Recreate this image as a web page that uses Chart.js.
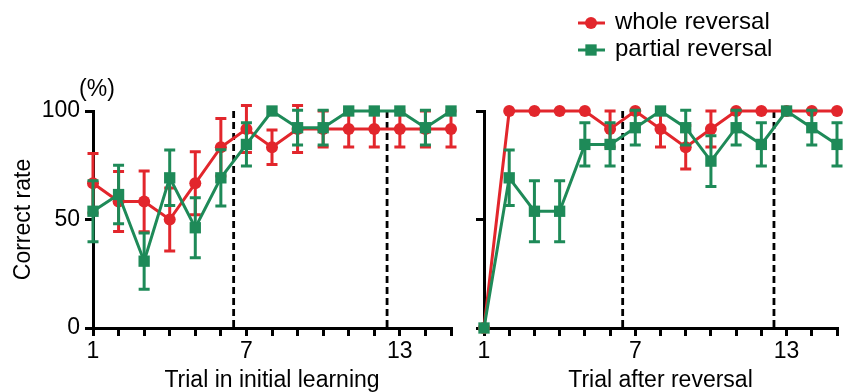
<!DOCTYPE html>
<html>
<head>
<meta charset="utf-8">
<script src="https://cdn.jsdelivr.net/npm/chart.js@4"></script>
<style>
  body { margin: 0; background: #fff; }
  #wrap { position: relative; width: 845px; height: 392px; }
  canvas { position: absolute; left: 0; top: 0; }
</style>
</head>
<body>
<div id="wrap">
  <canvas id="cv1" width="845" height="392"></canvas>
  <canvas id="cv2" width="845" height="392"></canvas>
</div>
<script>

const trials = [1, 2, 3, 4, 5, 6, 7, 8, 9, 10, 11, 12, 13, 14, 15];
const xLabels = [1, 7, 13];
const yTicks = [0, 50, 100];
const dividers = [6.5, 12.5];

// initial learning
const learnWhole = [66.7, 58.3, 58.3, 50, 66.7, 83.3, 91.7, 83.3, 91.7, 91.7, 91.7, 91.7, 91.7, 91.7, 91.7];
const learnWholeErr = [13.7, 13.8, 14, 14.5, 14.5, 13.3, 10.8, 8, 10.8, 8.3, 8.3, 8.3, 8.3, 8.3, 8.3];
const learnPartial = [53.8, 61.5, 30.8, 69.2, 46.2, 69.2, 84.6, 100, 92.3, 92.3, 100, 100, 100, 92.3, 100];
const learnPartialErr = [14, 13.5, 13, 12.8, 13.8, 13, 10, 0, 8, 8, 0, 0, 0, 8, 0];

// after reversal
const revWhole = [0, 100, 100, 100, 100, 91.7, 100, 91.7, 83.3, 91.7, 100, 100, 100, 100, 100];
const revWholeErr = [0, 0, 0, 0, 0, 8.3, 0, 8.3, 10, 8.3, 0, 0, 0, 0, 0];
const revPartial = [0, 69.2, 53.8, 53.8, 84.6, 84.6, 92.3, 100, 92.3, 76.9, 92.3, 84.6, 100, 92.3, 84.6];
const revPartialErr = [0, 12.8, 14, 14, 10, 10, 8, 0, 8, 11.7, 8, 10, 0, 8, 10];

const RED = "#e2262c";
const GREEN = "#1e8a58";
const FAMILY = "'Liberation Sans', Arial, sans-serif";

Chart.defaults.font.family = FAMILY;
Chart.defaults.font.size = 23;
Chart.defaults.color = "#000";


function points(values) {
    return trials.map((t, i) => ({ x: t, y: values[i] }));
}


const errorBars = {
    id: "errorBars",
    beforeDatasetDraw(chart, args) {
        const ds = chart.data.datasets[args.index];
        if (!ds.errors) return;
        const xs = chart.scales.x;
        const ys = chart.scales.y;
        const ctx = chart.ctx;
        ctx.save();
        ctx.strokeStyle = ds.borderColor;
        ctx.lineWidth = 3;
        trials.forEach((t, i) => {
            const e = ds.errors[i];
            if (!e) return;
            const v = ds.data[i].y;
            const x = xs.getPixelForValue(t);
            const y1 = ys.getPixelForValue(v + e);
            const y2 = ys.getPixelForValue(v - e);
            ctx.beginPath();
            ctx.moveTo(x, y1);
            ctx.lineTo(x, y2);
            ctx.moveTo(x - 5.5, y1);
            ctx.lineTo(x + 5.5, y1);
            ctx.moveTo(x - 5.5, y2);
            ctx.lineTo(x + 5.5, y2);
            ctx.stroke();
        });
        ctx.restore();
    }
};


const dashedLines = {
    id: "dashedLines",
    beforeDatasetsDraw(chart) {
        const xs = chart.scales.x;
        const ys = chart.scales.y;
        const ctx = chart.ctx;
        ctx.save();
        ctx.strokeStyle = "#000";
        ctx.lineWidth = 2.8;
        ctx.setLineDash([7, 4]);
        dividers.forEach(d => {
            const x = xs.getPixelForValue(d);
            ctx.beginPath();
            ctx.moveTo(x, ys.getPixelForValue(100));
            ctx.lineTo(x, ys.getPixelForValue(0));
            ctx.stroke();
        });
        ctx.restore();
    }
};


const extras = {
    id: "extras",
    afterDraw(chart) {
        const ctx = chart.ctx;
        ctx.save();
        ctx.font = "23px " + FAMILY;
        ctx.fillStyle = "#000";
        ctx.textBaseline = "middle";
        ctx.textAlign = "center";
        ctx.fillText("(%)", 97, 90);

        // legend
        const rows = [["whole reversal", RED, "circle", 23], ["partial reversal", GREEN, "rect", 50]];
        ctx.font = "24px " + FAMILY;
        ctx.textAlign = "left";
        rows.forEach(r => {
            ctx.strokeStyle = r[1];
            ctx.lineWidth = 3;
            ctx.beginPath();
            ctx.moveTo(578, r[3]);
            ctx.lineTo(605, r[3]);
            ctx.stroke();
            ctx.fillStyle = r[1];
            Chart.helpers.drawPoint(ctx, { pointStyle: r[2], radius: r[2] == "rect" ? 8 : 6, borderWidth: 0 }, 591, r[3]);
            ctx.fillStyle = "#000";
            ctx.fillText(r[0], 615, r[3] - 1);
        });
        ctx.restore();
    }
};


function makeChart(id, whole, wholeErr, partial, partialErr, xTitle, leftPanel) {

    const canvas = document.getElementById(id);

    const plugins = [errorBars, dashedLines];
    if (leftPanel) plugins.push(extras);

    new Chart(canvas, {
        type: "line",
        data: {
            datasets: [
                {
                    label: "whole reversal",
                    data: points(whole),
                    errors: wholeErr,
                    borderColor: RED,
                    backgroundColor: RED,
                    borderWidth: 3,
                    pointStyle: "circle",
                    pointRadius: 6,
                    pointBorderWidth: 0,
                    tension: 0,
                    clip: false,
                    order: 1
                },
                {
                    label: "partial reversal",
                    data: points(partial),
                    errors: partialErr,
                    borderColor: GREEN,
                    backgroundColor: GREEN,
                    borderWidth: 3,
                    pointStyle: "rect",
                    pointRadius: 8,
                    pointBorderWidth: 0,
                    tension: 0,
                    clip: false,
                    order: 0
                }
            ]
        },
        options: {
            responsive: false,
            animation: false,
            devicePixelRatio: 1,
            layout: {
                padding: leftPanel
                    ? { left: 0, right: 394, top: 111, bottom: 0 }
                    : { left: 470, right: 3, top: 111, bottom: 0 }
            },
            plugins: {
                legend: { display: false },
                tooltip: { enabled: false }
            },
            scales: {
                x: {
                    type: "linear",
                    min: 1,
                    max: 15,
                    afterFit(scale) { scale.height = 64; },
                    border: { display: true, color: "#000", width: 3 },
                    grid: { drawOnChartArea: false, drawTicks: true, tickLength: 8, color: "#000", lineWidth: 3 },
                    ticks: {
                        stepSize: 1,
                        autoSkip: false,
                        maxRotation: 0,
                        padding: 2,
                        callback: v => xLabels.includes(v) ? String(v) : ""
                    },
                    title: {
                        display: true,
                        text: xTitle,
                        font: { size: 23, lineHeight: 1 },
                        padding: 0
                    }
                },
                y: {
                    min: 0,
                    max: 100,
                    afterFit(scale) { scale.width = leftPanel ? 93 : 14; },
                    afterBuildTicks(scale) { scale.ticks = yTicks.map(v => ({ value: v })); },
                    border: { display: true, color: "#000", width: 3 },
                    grid: { drawOnChartArea: false, drawTicks: true, tickLength: 8, color: "#000", lineWidth: 3 },
                    ticks: {
                        padding: 5,
                        callback: v => leftPanel ? String(v) : ""
                    },
                    title: {
                        display: leftPanel,
                        text: "Correct rate",
                        font: { size: 23, lineHeight: 1 },
                        padding: { top: 12, bottom: 0 }
                    }
                }
            }
        },
        plugins: plugins
    });
}


makeChart("cv1", learnWhole, learnWholeErr, learnPartial, learnPartialErr, "Trial in initial learning", true);

makeChart("cv2", revWhole, revWholeErr, revPartial, revPartialErr, "Trial after reversal", false);

</script>
</body>
</html>
